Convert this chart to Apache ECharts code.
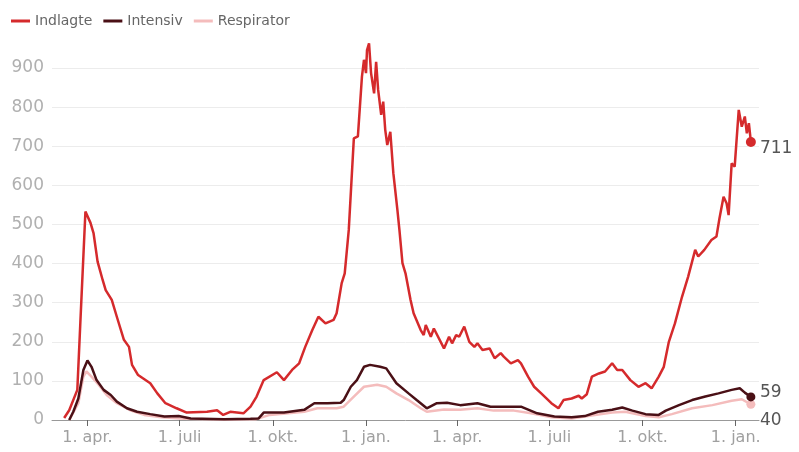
<!DOCTYPE html>
<html>
<head>
<meta charset="utf-8">
<script src="https://cdn.jsdelivr.net/npm/echarts@6/dist/echarts.min.js"></script>
<style>
  html, body { margin: 0; padding: 0; background: #fff; }
  #chart { width: 799px; height: 452px; }
</style>
</head>
<body>
<div id="chart"></div>
<script>
// indlagte på hospital, [dato, antal]
var indlagte = [
  ['2020-03-09', 5], ['2020-03-14', 25], ['2020-03-22', 77], ['2020-03-25', 250], ['2020-03-30', 533],
  ['2020-03-31', 535], ['2020-04-04', 504], ['2020-04-07', 478], ['2020-04-11', 405], ['2020-04-16', 358],
  ['2020-04-19', 332], ['2020-04-25', 307], ['2020-04-30', 264], ['2020-05-07', 205], ['2020-05-12', 187],
  ['2020-05-15', 141], ['2020-05-21', 115], ['2020-06-02', 94], ['2020-06-09', 68], ['2020-06-17', 43],
  ['2020-06-28', 30], ['2020-07-08', 19], ['2020-07-28', 21], ['2020-08-07', 25], ['2020-08-13', 13],
  ['2020-08-20', 21], ['2020-09-02', 17], ['2020-09-09', 34], ['2020-09-15', 60], ['2020-09-22', 102],
  ['2020-10-05', 122], ['2020-10-12', 102], ['2020-10-20', 128], ['2020-10-27', 145], ['2020-11-02', 187],
  ['2020-11-09', 230], ['2020-11-15', 264], ['2020-11-22', 247], ['2020-11-30', 256], ['2020-12-03', 273],
  ['2020-12-08', 350], ['2020-12-11', 375], ['2020-12-15', 486], ['2020-12-20', 720], ['2020-12-24', 725],
  ['2020-12-28', 878], ['2020-12-30', 921], ['2021-01-01', 887], ['2021-01-02', 946], ['2021-01-04', 963],
  ['2021-01-06', 887], ['2021-01-09', 835], ['2021-01-11', 916], ['2021-01-13', 844], ['2021-01-16', 780],
  ['2021-01-18', 814], ['2021-01-20', 742], ['2021-01-22', 703], ['2021-01-25', 737], ['2021-01-28', 631],
  ['2021-02-01', 537], ['2021-02-03', 486], ['2021-02-06', 401], ['2021-02-09', 375], ['2021-02-14', 307],
  ['2021-02-17', 273], ['2021-02-24', 230], ['2021-02-27', 217], ['2021-03-01', 243], ['2021-03-06', 213],
  ['2021-03-09', 234], ['2021-03-19', 183], ['2021-03-24', 213], ['2021-03-27', 196], ['2021-03-31', 217],
  ['2021-04-03', 213], ['2021-04-08', 239], ['2021-04-13', 200], ['2021-04-18', 187], ['2021-04-21', 196],
  ['2021-04-26', 179], ['2021-05-03', 183], ['2021-05-08', 158], ['2021-05-14', 171], ['2021-05-17', 162],
  ['2021-05-24', 145], ['2021-05-31', 153], ['2021-06-03', 145], ['2021-06-10', 111], ['2021-06-16', 85],
  ['2021-06-23', 68], ['2021-07-03', 43], ['2021-07-10', 30], ['2021-07-15', 51], ['2021-07-23', 55],
  ['2021-07-30', 62], ['2021-08-02', 55], ['2021-08-07', 66], ['2021-08-12', 111], ['2021-08-19', 119],
  ['2021-08-25', 124], ['2021-09-01', 145], ['2021-09-06', 128], ['2021-09-11', 128], ['2021-09-19', 102],
  ['2021-09-27', 85], ['2021-10-04', 94], ['2021-10-10', 81], ['2021-10-17', 111], ['2021-10-22', 136],
  ['2021-10-27', 200], ['2021-11-02', 247], ['2021-11-09', 315], ['2021-11-15', 366], ['2021-11-22', 435],
  ['2021-11-25', 418], ['2021-12-01', 435], ['2021-12-08', 460], ['2021-12-13', 469], ['2021-12-16', 516],
  ['2021-12-20', 571], ['2021-12-23', 554], ['2021-12-25', 524], ['2021-12-28', 656], ['2021-12-31', 648],
  ['2022-01-04', 793], ['2022-01-07', 750], ['2022-01-10', 776], ['2022-01-12', 733], ['2022-01-14', 759],
  ['2022-01-16', 711]
];

var intensiv = [
  ['2020-03-14', 0], ['2020-03-18', 21], ['2020-03-23', 55], ['2020-03-28', 128], ['2020-04-01', 152],
  ['2020-04-05', 136], ['2020-04-10', 102], ['2020-04-17', 77], ['2020-04-24', 64], ['2020-04-30', 47],
  ['2020-05-10', 30], ['2020-05-20', 21], ['2020-06-02', 15], ['2020-06-16', 9], ['2020-06-30', 10],
  ['2020-07-12', 4], ['2020-08-14', 2], ['2020-09-09', 3], ['2020-09-17', 4], ['2020-09-22', 19],
  ['2020-10-12', 19], ['2020-11-01', 26], ['2020-11-11', 43], ['2020-11-24', 43], ['2020-12-07', 44],
  ['2020-12-10', 51], ['2020-12-17', 85], ['2020-12-23', 102], ['2020-12-30', 136], ['2021-01-05', 141],
  ['2021-01-15', 136], ['2021-01-21', 132], ['2021-01-31', 94], ['2021-02-12', 68], ['2021-02-20', 51],
  ['2021-03-02', 30], ['2021-03-12', 43], ['2021-03-22', 44], ['2021-04-04', 38], ['2021-04-21', 43],
  ['2021-05-04', 34], ['2021-05-20', 34], ['2021-06-03', 34], ['2021-06-19', 17], ['2021-07-06', 9],
  ['2021-07-23', 7], ['2021-08-05', 10], ['2021-08-18', 21], ['2021-09-01', 26], ['2021-09-11', 32],
  ['2021-09-21', 24], ['2021-10-04', 15], ['2021-10-17', 13], ['2021-10-24', 24], ['2021-11-06', 38],
  ['2021-11-19', 51], ['2021-12-02', 60], ['2021-12-15', 68], ['2021-12-28', 77], ['2022-01-05', 81],
  ['2022-01-10', 70], ['2022-01-16', 59]
];

var respirator = [
  ['2020-03-14', 0], ['2020-03-23', 43], ['2020-03-28', 111], ['2020-03-31', 124], ['2020-04-05', 111],
  ['2020-04-12', 90], ['2020-04-20', 64], ['2020-04-30', 43], ['2020-05-14', 24], ['2020-05-27', 13],
  ['2020-06-13', 7], ['2020-07-06', 3], ['2020-08-14', 1], ['2020-09-14', 2], ['2020-09-28', 13],
  ['2020-11-01', 21], ['2020-11-14', 30], ['2020-12-03', 30], ['2020-12-10', 34], ['2020-12-20', 60],
  ['2020-12-30', 85], ['2021-01-12', 90], ['2021-01-21', 85], ['2021-01-31', 68], ['2021-02-12', 51],
  ['2021-02-24', 30], ['2021-03-02', 21], ['2021-03-19', 27], ['2021-04-04', 26], ['2021-04-21', 30],
  ['2021-05-07', 24], ['2021-05-27', 24], ['2021-06-13', 17], ['2021-07-03', 7], ['2021-07-23', 4],
  ['2021-08-15', 13], ['2021-09-01', 19], ['2021-09-14', 21], ['2021-10-04', 10], ['2021-10-17', 7],
  ['2021-10-30', 15], ['2021-11-19', 30], ['2021-12-09', 38], ['2021-12-28', 49], ['2022-01-07', 53],
  ['2022-01-16', 40]
];

var tickDates = ['2020-04-01', '2020-07-01', '2020-10-01', '2021-01-01',
                 '2021-04-01', '2021-07-01', '2021-10-01', '2022-01-01'];
var monthNames = { 0: '1. jan.', 3: '1. apr.', 6: '1. juli', 9: '1. okt.' };

function ts(d) { return +echarts.number.parseDate(d); }
function toXY(data) { return data.map(function (d) { return [ts(d[0]), d[1]]; }); }

var tickValues = tickDates.map(ts);

function lastDot(data, size) {
  return function (val, params) {
    return params.dataIndex === data.length - 1 ? size : 0;
  };
}

function endLbl(offset) {
  return {
    show: true,
    distance: 9,
    offset: offset,
    color: '#555',
    fontSize: 17,
    formatter: function (p) { return p.value[1]; }
  };
}

var chart = echarts.init(document.getElementById('chart'));
chart.setOption({
  animation: false,
  textStyle: { fontFamily: 'DejaVu Sans, sans-serif' },
  legend: {
    left: 6,
    top: 9,
    itemWidth: 19,
    itemHeight: 3,
    itemGap: 11,
    icon: 'rect',
    textStyle: { color: '#666', fontSize: 14 },
    data: ['Indlagte', 'Intensiv', 'Respirator']
  },
  grid: { left: 52, right: 40, top: 68, bottom: 32 },
  xAxis: {
    type: 'value',
    min: ts('2020-02-26'),
    max: ts('2022-01-24'),
    axisLine: { onZero: false, lineStyle: { color: '#999', width: 1 } },
    axisTick: { show: true, customValues: tickValues, length: 6, lineStyle: { color: '#666' } },
    axisLabel: {
      customValues: tickValues,
      color: '#a0a0a0',
      fontSize: 16,
      margin: 10,
      formatter: function (v) { return monthNames[new Date(v).getMonth()]; }
    },
    splitLine: { show: false }
  },
  yAxis: {
    type: 'value',
    min: 0,
    max: 900,
    interval: 100,
    axisLine: { show: false },
    axisTick: { show: false },
    axisLabel: { color: '#b0b0b0', fontSize: 17, margin: 8 },
    splitLine: { lineStyle: { color: '#ececec', width: 1 } }
  },
  series: [
    {
      name: 'Indlagte',
      type: 'line',
      data: toXY(indlagte),
      clip: false,
      z: 4,
      color: '#d52a2c',
      lineStyle: { width: 2.5 },
      showSymbol: true,
      showAllSymbol: true,
      symbol: 'circle',
      symbolSize: lastDot(indlagte, 10),
      endLabel: endLbl([0, 7])
    },
    {
      name: 'Intensiv',
      type: 'line',
      data: toXY(intensiv),
      z: 3,
      color: '#4a1016',
      lineStyle: { width: 2.5 },
      showSymbol: true,
      showAllSymbol: true,
      symbol: 'circle',
      symbolSize: lastDot(intensiv, 9),
      endLabel: endLbl([0, -4])
    },
    {
      name: 'Respirator',
      type: 'line',
      data: toXY(respirator),
      z: 2,
      color: '#f4bcbc',
      lineStyle: { width: 2.5 },
      showSymbol: true,
      showAllSymbol: true,
      symbol: 'circle',
      symbolSize: lastDot(respirator, 9),
      endLabel: endLbl([0, 16])
    }
  ]
});
</script>
</body>
</html>
